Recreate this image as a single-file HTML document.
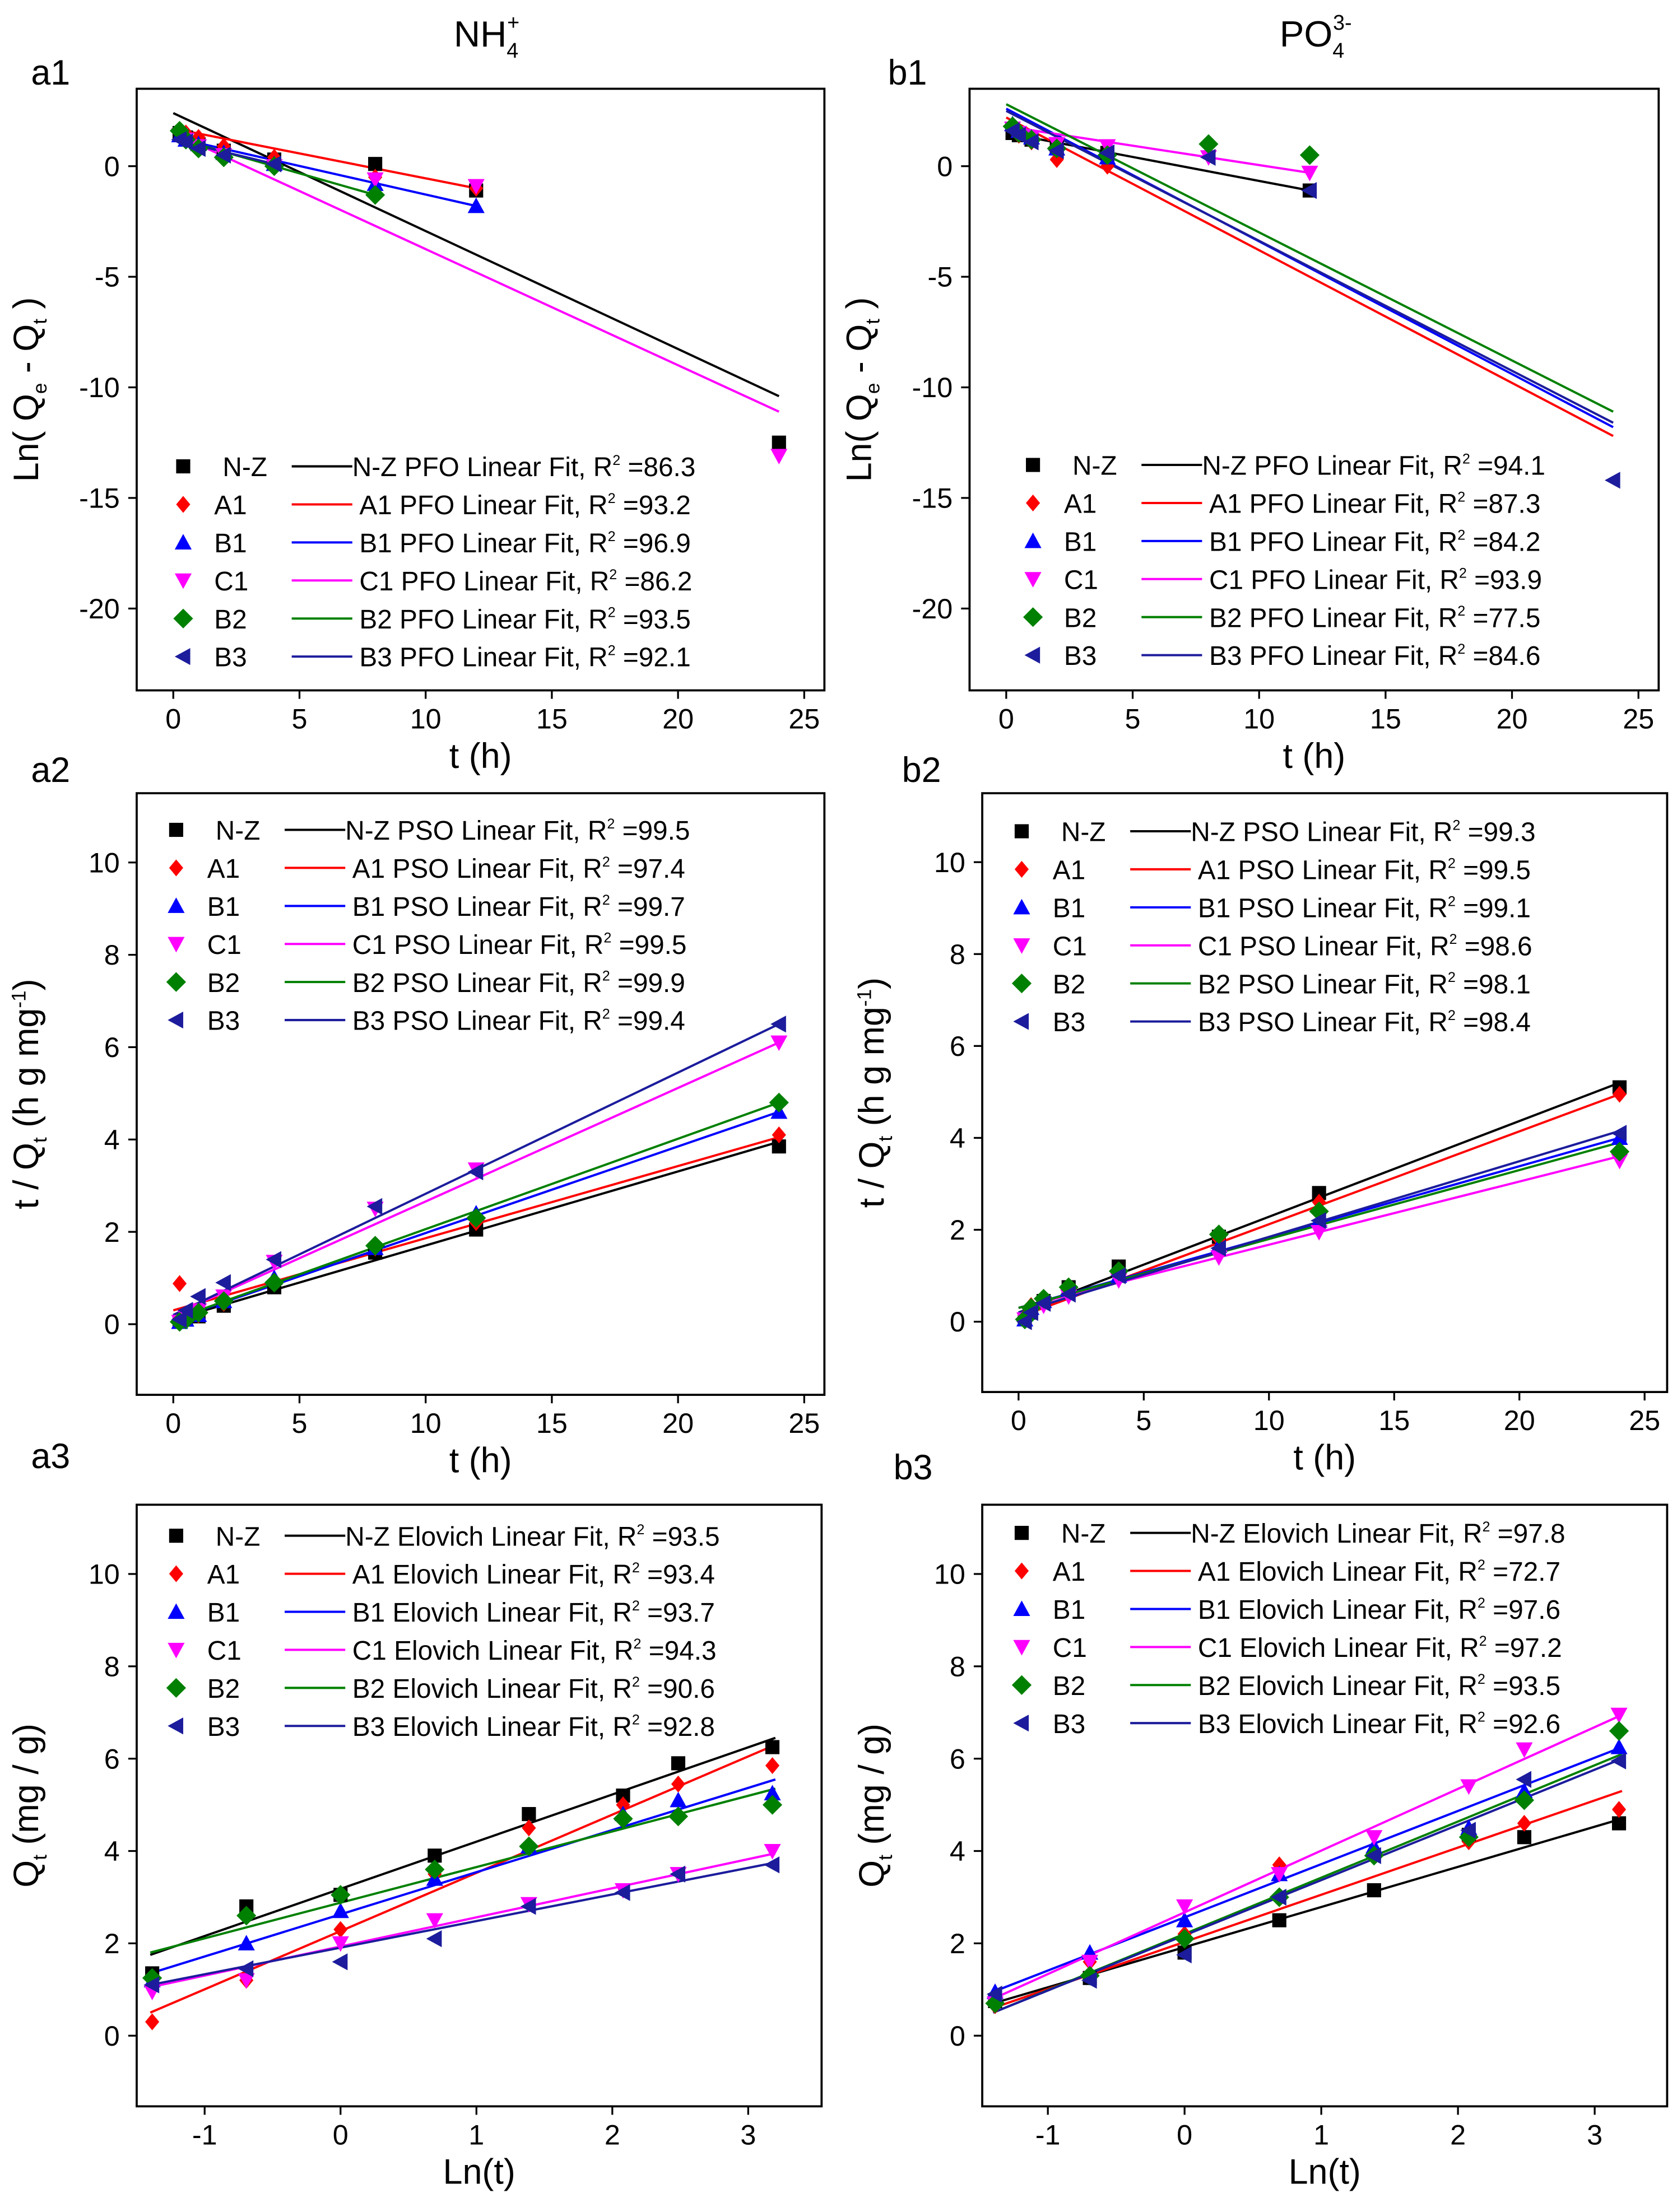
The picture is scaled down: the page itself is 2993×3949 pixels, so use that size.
<!DOCTYPE html>
<html><head><meta charset="utf-8"><style>
html,body{margin:0;padding:0;background:#fff}
svg{display:block}
text{font-family:"Liberation Sans",sans-serif}
</style></head><body>
<svg id="fig" width="2993" height="3949" viewBox="0 0 1190 1570" preserveAspectRatio="none" xmlns="http://www.w3.org/2000/svg"></svg>
<script>
const tHours=[0.25,0.5,1,2,4,8,12,24];
const lnT=[-1.386,-0.693,0,0.693,1.386,2.079,2.485,3.178];
const seriesNames=["N-Z","A1","B1","C1","B2","B3"];
// a1 PFO
const a1Vals=[[1.5,1.3,1.0,0.7,0.3,0.1,-1.1,-12.5],[1.6,1.5,1.3,0.9,0.4,-0.5,-1.0,null],[1.4,1.2,1.0,0.6,0.1,-0.8,-1.8,null],[1.4,1.2,0.9,0.5,0.0,-0.6,-0.9,-13.1],[1.6,1.2,0.8,0.4,0.0,-1.3,null,null],[1.2,1.1,0.8,0.5,0.1,null,null,null]];
const a1Fit=[[0,2.4,24,-10.4],[0,1.7,12,-1.0],[0,1.3,12,-1.8],[0,1.5,24,-11.1],[0,1.3,8,-1.3],[0,1.2,4,0.1]];
const a1R2=["86.3","93.2","96.9","86.2","93.5","92.1"];
// b1 PFO
const b1Vals=[[1.5,1.4,1.2,0.9,0.6,null,-1.1,null],[1.8,1.4,1.1,0.3,0.0,null,null,null],[1.9,1.6,1.3,0.8,0.4,null,null,null],[1.7,1.5,1.3,1.0,0.9,0.4,-0.3,null],[1.8,1.5,1.2,0.8,0.5,1.0,0.5,null],[1.6,1.4,1.1,0.7,0.6,0.4,-1.1,-14.2]];
const b1Fit=[[0,1.5,12,-1.1],[0,2.2,24,-12.2],[0,2.6,24,-11.8],[0,1.8,12,-0.3],[0,2.8,24,-11.1],[0,2.5,24,-11.6]];
const b1R2=["94.1","87.3","84.2","93.9","77.5","84.6"];
// a2 PSO
const a2Vals=[[0.05,0.1,0.17,0.4,0.8,1.55,2.05,3.85],[0.88,0.1,0.2,0.45,0.9,1.65,2.2,4.1],[0.05,0.1,0.2,0.5,1.0,1.65,2.4,4.6],[0.05,0.15,0.3,0.6,1.35,2.5,3.35,6.1],[0.05,0.1,0.25,0.5,0.9,1.7,2.3,4.8],[0.1,0.3,0.6,0.9,1.4,2.55,3.3,6.5]];
const a2Fit=[[0,0.1,24,3.95],[0,0.3,24,4.05],[0,0.1,24,4.6],[0,0.2,24,6.1],[0,0.1,24,4.8],[0,0.2,24,6.5]];
const a2R2=["99.5","97.4","99.7","99.5","99.9","99.4"];
// b2 PSO
const b2Vals=[[0.05,0.2,0.45,0.75,1.2,1.85,2.8,5.1],[0.1,0.35,0.5,0.7,1.1,1.8,2.6,4.95],[0.05,0.3,0.45,0.7,1.0,1.65,2.2,4.0],[0.05,0.2,0.35,0.55,0.9,1.4,1.95,3.5],[0.05,0.3,0.5,0.75,1.1,1.9,2.4,3.7],[0.0,0.2,0.4,0.6,1.0,1.6,2.2,4.1]];
const b2Fit=[[0,0.2,24,5.2],[0,0.1,24,4.95],[0,0.3,24,4.0],[0,0.3,24,3.6],[0,0.3,24,3.9],[0,0.2,24,4.15]];
const b2R2=["99.3","99.5","99.1","98.6","98.1","98.4"];
// a3 Elovich
const a3Vals=[[1.35,2.8,3.05,3.9,4.8,5.2,5.9,6.25],[0.3,1.2,2.3,3.5,4.5,5.0,5.45,5.85],[1.2,2.0,2.7,3.4,4.1,4.8,5.1,5.25],[0.95,1.2,2.0,2.5,2.85,3.15,3.5,4.0],[1.25,2.6,3.05,3.6,4.1,4.7,4.75,5.0],[1.1,1.45,1.6,2.1,2.8,3.1,3.5,3.7]];
const a3Fit=[[-1.4,1.75,3.2,6.45],[-1.4,0.5,3.2,6.3],[-1.4,1.35,3.2,5.55],[-1.4,1.05,3.2,3.95],[-1.4,1.8,3.2,5.35],[-1.4,1.1,3.2,3.75]];
const a3R2=["93.5","93.4","93.7","94.3","90.6","92.8"];
// b3 Elovich
const b3Vals=[[0.75,1.25,1.8,2.5,3.15,4.35,4.3,4.6],[0.65,1.6,2.2,3.7,3.9,4.2,4.6,4.9],[0.95,1.8,2.5,3.5,4.1,4.5,5.3,6.25],[0.7,1.6,2.8,3.5,4.3,5.4,6.2,6.95],[0.7,1.3,2.1,3.0,3.9,4.3,5.1,6.6],[0.9,1.2,1.75,3.0,3.9,4.45,5.55,5.95]];
const b3Fit=[[-1.4,0.7,3.2,4.7],[-1.4,0.6,3.2,5.3],[-1.4,0.95,3.2,6.25],[-1.4,0.8,3.2,6.95],[-1.4,0.5,3.2,6.1],[-1.4,0.5,3.2,6.0]];
const b3R2=["97.8","72.7","97.6","97.2","93.5","92.6"];

const tTicks=[0,5,10,15,20,25];
const lnTicks=[-1,0,1,2,3];
const pfoTicks=[0,-5,-10,-15,-20];
const qTicks=[0,2,4,6,8,10];

const colors=["#000000","#ff0000","#0000ff","#ff00ff","#008000","#1c1c9c"];
const NS="http://www.w3.org/2000/svg";
const svg=document.getElementById('fig');
function mk(tag,attrs,parent){const e=document.createElementNS(NS,tag);for(const k in attrs)e.setAttribute(k,attrs[k]);(parent||svg).appendChild(e);return e;}
function marker(g,i,x,y){
  const c=colors[i];let e;
  if(i===0)e=mk('rect',{x:x-5,y:y-5,width:10,height:10,fill:c},g);
  else if(i===1)e=mk('path',{d:`M${x} ${y-6}L${x+5} ${y}L${x} ${y+6}L${x-5} ${y}Z`,fill:c},g);
  else if(i===2)e=mk('path',{d:`M${x} ${y-6}L${x+6} ${y+5}L${x-6} ${y+5}Z`,fill:c},g);
  else if(i===3)e=mk('path',{d:`M${x} ${y+6}L${x+6} ${y-5}L${x-6} ${y-5}Z`,fill:c},g);
  else if(i===4)e=mk('path',{d:`M${x} ${y-7}L${x+7} ${y}L${x} ${y+7}L${x-7} ${y}Z`,fill:c},g);
  else e=mk('path',{d:`M${x-6} ${y}L${x+5} ${y-6}L${x+5} ${y+6}Z`,fill:c},g);
  return e;
}
function panel(p){
  const g=mk('g',{});
  
  
  const sx=v=>p.x0+(v-p.xd[0])/(p.xd[1]-p.xd[0])*(p.x1-p.x0);
  const sy=v=>p.y1-(v-p.yd[0])/(p.yd[1]-p.yd[0])*(p.y1-p.y0);
  const f=mk('rect',{x:p.x0,y:p.y0,width:p.x1-p.x0,height:p.y1-p.y0,fill:'none',stroke:'#000','stroke-width':1.5},g);
  
  
  p.xt.forEach(v=>{const x=sx(v);
    mk('line',{x1:x,x2:x,y1:p.y1,y2:p.y1+6,stroke:'#000','stroke-width':1.3},g);
    const t=mk('text',{x:x,y:p.y1+27,'font-size':20,'text-anchor':'middle'},g);t.textContent=v;
    
    });
  p.yt.forEach(v=>{const y=sy(v);
    mk('line',{x1:p.x0-6,x2:p.x0,y1:y,y2:y,stroke:'#000','stroke-width':1.3},g);
    const t=mk('text',{x:p.x0-12,y:y+7,'font-size':20,'text-anchor':'end'},g);t.textContent=v;
    
    });
  const xs=p.xs;
  p.fit.forEach((l,i)=>{const e=mk('line',{x1:sx(l[0]),y1:sy(l[1]),x2:sx(l[2]),y2:sy(l[3]),stroke:colors[i],'stroke-width':1.6},g);
    
    });
  p.vals.forEach((arr,i)=>arr.forEach((v,j)=>{if(v===null)return;const m=marker(g,i,sx(xs[j]),sy(v));
    
    }));
  // legend
  seriesNames.forEach((n,i)=>{const y=p.ly+i*p.ls;
    const m=marker(g,i,p.lx,y);
    
    
    const t1=mk('text',{x:p.lx+(i===0?28:22),y:y+7,'font-size':19},g);t1.textContent=n;
    
    
    mk('line',{x1:p.lx+77,x2:p.lx+120,y1:y,y2:y,stroke:colors[i],'stroke-width':1.6},g);
    const t2=mk('text',{x:p.lx+(i===0?120:125),y:y+7,'font-size':19},g);
    t2.innerHTML=`${n}  ${p.kind} Linear Fit, R<tspan font-size="10" dy="-8">2</tspan><tspan dy="8"> =${p.r2[i]}</tspan>`;
    
    });
  // labels
  const pl=mk('text',{x:p.lab[0],y:p.lab[1],'font-size':25},g);pl.textContent=p.id;
  
  
  const xt=mk('text',{x:(p.x0+p.x1)/2,y:p.y1+55,'font-size':25,'text-anchor':'middle'},g);xt.textContent=p.xlabel;
  
  
  const cy=(p.y0+p.y1)/2, yx=p.x0-70;
  const yt=mk('text',{x:yx,y:cy,'font-size':25,'text-anchor':'middle',transform:`rotate(-90 ${yx} ${cy})`},g);
  yt.innerHTML=p.ylabel;
  
  
}
const pfoY='Ln( Q<tspan font-size="14" dy="6">e</tspan><tspan dy="-6"> - Q</tspan><tspan font-size="14" dy="6">t</tspan><tspan dy="-6"> )</tspan>';
const psoY='t / Q<tspan font-size="14" dy="6">t</tspan><tspan dy="-6"> (h g mg</tspan><tspan font-size="14" dy="-9">-1</tspan><tspan dy="9">)</tspan>';
const eloY='Q<tspan font-size="14" dy="6">t</tspan><tspan dy="-6">  (mg / g)</tspan>';
panel({id:'a1',x0:97,x1:585,y0:63,y1:490,xd:[-1.45,25.8],yd:[-23.7,3.5],xt:tTicks,yt:pfoTicks,xs:tHours,vals:a1Vals,fit:a1Fit,r2:a1R2,kind:'PFO',lx:130,ly:331,ls:27,lab:[22,60],xlabel:'t  (h)',ylabel:pfoY});
panel({id:'b1',x0:688,x1:1177,y0:63,y1:490,xd:[-1.45,25.8],yd:[-23.7,3.5],xt:tTicks,yt:pfoTicks,xs:tHours,vals:b1Vals,fit:b1Fit,r2:b1R2,kind:'PFO',lx:733,ly:330,ls:27,lab:[630,60],xlabel:'t  (h)',ylabel:pfoY});
panel({id:'a2',x0:97,x1:585,y0:563,y1:990,xd:[-1.45,25.8],yd:[-1.53,11.5],xt:tTicks,yt:qTicks,xs:tHours,vals:a2Vals,fit:a2Fit,r2:a2R2,kind:'PSO',lx:125,ly:589,ls:27,lab:[22,555],xlabel:'t  (h)',ylabel:psoY});
panel({id:'b2',x0:697,x1:1183,y0:563,y1:988,xd:[-1.45,25.9],yd:[-1.53,11.5],xt:tTicks,yt:qTicks,xs:tHours,vals:b2Vals,fit:b2Fit,r2:b2R2,kind:'PSO',lx:725,ly:590,ls:27,lab:[640,555],xlabel:'t  (h)',ylabel:psoY});
panel({id:'a3',x0:97,x1:583,y0:1068,y1:1495,xd:[-1.5,3.54],yd:[-1.53,11.5],xt:lnTicks,yt:qTicks,xs:lnT,vals:a3Vals,fit:a3Fit,r2:a3R2,kind:'Elovich',lx:125,ly:1090,ls:27,lab:[22,1042],xlabel:'Ln(t)',ylabel:eloY});
panel({id:'b3',x0:697,x1:1183,y0:1068,y1:1495,xd:[-1.48,3.53],yd:[-1.53,11.5],xt:lnTicks,yt:qTicks,xs:lnT,vals:b3Vals,fit:b3Fit,r2:b3R2,kind:'Elovich',lx:725,ly:1088,ls:27,lab:[634,1050],xlabel:'Ln(t)',ylabel:eloY});
const h1=mk('text',{x:322,y:33,'font-size':26});
h1.innerHTML='NH<tspan font-size="15" dy="8">4</tspan><tspan font-size="15" dx="-8" dy="-20">+</tspan>';


const h2=mk('text',{x:908,y:33,'font-size':26});
h2.innerHTML='PO<tspan font-size="15" dy="8">4</tspan><tspan font-size="15" dx="-8" dy="-20">3-</tspan>';


</script>
</body></html>
